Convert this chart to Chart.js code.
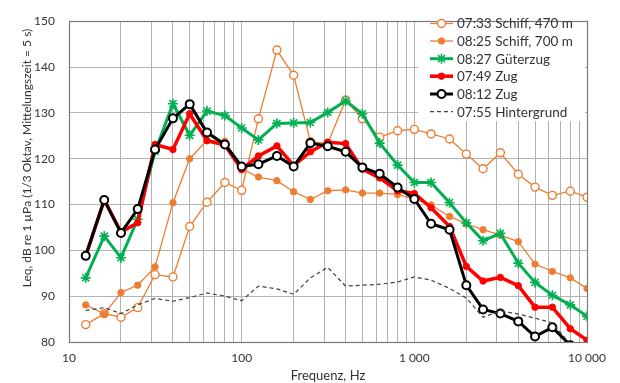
<!DOCTYPE html>
<html>
<head>
<meta charset="utf-8">
<script src="https://cdn.jsdelivr.net/npm/chart.js@4.4.1/dist/chart.umd.min.js"></script>
<style>
  html, body { margin: 0; padding: 0; background: #ffffff; }
  #wrap { width: 620px; height: 383px; }
</style>
</head>
<body>
<div id="wrap"><canvas id="c" width="620" height="383"></canvas></div>
<script>
// ---- data ----
const freqs = [12.5, 16, 20, 25, 31.5, 40, 50, 63, 80, 100, 125, 160, 200, 250, 315, 400, 500, 630, 800, 1000, 1250, 1600, 2000, 2500, 3150, 4000, 5000, 6300, 8000, 10000];

const schiff470 = [83.8, 86.2, 85.4, 87.5, 94.7, 94.2, 105.2, 110.5, 114.8, 113.1, 128.7, 143.7, 138.2, 123.7, 123.3, 132.8, 128.7, 124.7, 126.1, 126.4, 125.4, 124.3, 121.0, 117.8, 121.3, 116.6, 113.8, 112.0, 112.9, 111.6];
const schiff700 = [88.1, 86.1, 90.8, 92.4, 96.4, 110.4, 120.0, 124.0, 123.8, 117.8, 116.0, 115.2, 112.8, 111.1, 113.0, 113.2, 112.5, 112.5, 112.2, 111.1, 109.9, 107.4, 105.8, 104.5, 103.3, 101.9, 97.0, 95.4, 94.0, 91.7];
const gueterzug = [94.0, 103.1, 98.4, 106.8, 121.6, 132.0, 125.1, 130.4, 129.4, 126.7, 124.1, 127.7, 127.8, 127.9, 130.1, 132.6, 129.8, 123.4, 118.6, 114.8, 114.8, 110.4, 106.0, 102.1, 103.7, 97.2, 93.0, 90.2, 88.1, 85.6];
const zug0749 = [98.8, 111.0, 104.0, 106.0, 123.1, 122.0, 129.8, 123.9, 123.0, 117.6, 120.6, 122.8, 118.5, 121.5, 123.6, 123.3, 117.7, 115.8, 113.0, 112.4, 109.3, 105.2, 96.5, 93.3, 94.1, 92.3, 87.6, 87.6, 82.9, 80.4];
const zug0812 = [98.8, 111.0, 103.8, 109.0, 122.0, 128.8, 131.9, 125.7, 123.1, 118.3, 118.8, 120.6, 118.3, 123.4, 122.7, 121.5, 118.1, 116.7, 113.7, 111.2, 105.8, 104.5, 92.4, 87.1, 86.2, 84.5, 81.2, 83.2, 79.3, 76.5];
const hintergrund = [86.9, 87.5, 86.2, 88.1, 89.5, 88.9, 89.7, 90.7, 90.0, 89.0, 92.2, 91.6, 90.4, 94.0, 96.3, 92.2, 92.4, 92.6, 93.1, 94.2, 93.5, 91.7, 89.6, 85.4, 86.8, 86.1, 85.2, 84.2, 79.5, 77.5];

const seriesLabels = ['07:33 Schiff, 470 m', '08:25 Schiff, 700 m', '08:27 Güterzug', '07:49 Zug', '08:12 Zug', '07:55 Hintergrund'];

const gridFreqs = [10, 20, 30, 40, 50, 60, 70, 80, 90, 100, 200, 300, 400, 500, 600, 700, 800, 900, 1000, 2000, 3000, 4000, 5000, 6000, 7000, 8000, 9000, 10000];
const xTickLabels = { 10: '10', 100: '100', 1000: '1 000', 10000: '10 000' };
const yTickValues = [80, 90, 100, 110, 120, 130, 140, 150];

const xTitle = 'Frequenz, Hz';
const yTitle = 'Leq, dB re 1 µPa (1/3 Oktav, Mittelungszeit = 5 s)';

// ---- styling ----
const FONT = 'Lato, "Open Sans", sans-serif';
const TEXT = '#333333';
const GRID = '#b3b3b3';
const ORANGE = '#ED7D31';
const GREEN = '#00B050';
const RED = '#FF0000';
const BLACK = '#000000';
const DASH = '#404040';

function pts(arr) { return freqs.map((f, i) => ({ x: f, y: arr[i] })); }

const datasets = [
  { label: seriesLabels[0], data: pts(schiff470), borderColor: ORANGE, borderWidth: 1.3,
    pointStyle: 'circle', pointRadius: 4, pointBackgroundColor: '#ffffff', pointBorderColor: ORANGE, pointBorderWidth: 1.4, order: 5 },
  { label: seriesLabels[1], data: pts(schiff700), borderColor: ORANGE, borderWidth: 1.3,
    pointStyle: 'circle', pointRadius: 3.2, pointBackgroundColor: ORANGE, pointBorderColor: ORANGE, pointBorderWidth: 1, order: 4 },
  { label: seriesLabels[2], data: pts(gueterzug), borderColor: GREEN, borderWidth: 3,
    pointStyle: 'star', pointRadius: 5, pointBackgroundColor: GREEN, pointBorderColor: GREEN, pointBorderWidth: 1.6, order: 3 },
  { label: seriesLabels[3], data: pts(zug0749), borderColor: RED, borderWidth: 3.5,
    pointStyle: 'circle', pointRadius: 3.2, pointBackgroundColor: RED, pointBorderColor: RED, pointBorderWidth: 1, order: 2 },
  { label: seriesLabels[4], data: pts(zug0812), borderColor: BLACK, borderWidth: 3,
    pointStyle: 'circle', pointRadius: 4, pointBackgroundColor: '#ffffff', pointBorderColor: BLACK, pointBorderWidth: 2, order: 1 },
  { label: seriesLabels[5], data: pts(hintergrund), borderColor: DASH, borderWidth: 1.2, borderDash: [4, 3],
    pointRadius: 0, pointStyle: false, order: 0 }
];
datasets.forEach(d => { d.tension = 0; d.fill = false; d.clip = 0; d.pointHoverRadius = d.pointRadius; });

const LEGEND = { x0: 418, y0: 12, x1: 585, y1: 121, lineX0: 430, lineX1: 453, textX: 457, rowY: [23.5, 41, 58.7, 76.2, 94, 111.7] };

const decorPlugin = {
  id: 'decor',
  beforeDatasetsDraw(chart) {
    const ctx = chart.ctx;
    ctx.save();
    ctx.fillStyle = '#ffffff';
    ctx.fillRect(LEGEND.x0, LEGEND.y0, LEGEND.x1 - LEGEND.x0, LEGEND.y1 - LEGEND.y0);
    const a = chart.chartArea;
    ctx.strokeStyle = '#7a7a7a';
    ctx.lineWidth = 1.2;
    ctx.strokeRect(Math.round(a.left) + 0.5, Math.round(a.top) + 0.5, Math.round(a.right - a.left), Math.round(a.bottom - a.top));
    ctx.restore();
  },
  afterDatasetsDraw(chart) {
    const ctx = chart.ctx;
    ctx.save();
    chart.data.datasets.forEach((ds, i) => {
      const y = LEGEND.rowY[i];
      ctx.save();
      ctx.strokeStyle = ds.borderColor;
      ctx.lineWidth = ds.borderWidth;
      ctx.setLineDash(ds.borderDash || []);
      ctx.beginPath();
      ctx.moveTo(LEGEND.lineX0, y);
      ctx.lineTo(LEGEND.lineX1, y);
      ctx.stroke();
      ctx.setLineDash([]);
      if (ds.pointRadius > 0 && ds.pointStyle) {
        ctx.fillStyle = ds.pointBackgroundColor;
        ctx.strokeStyle = ds.pointBorderColor;
        ctx.lineWidth = ds.pointBorderWidth;
        Chart.helpers.drawPoint(ctx, { pointStyle: ds.pointStyle, rotation: 0, radius: ds.pointRadius, borderWidth: ds.pointBorderWidth },
          (LEGEND.lineX0 + LEGEND.lineX1) / 2, y);
      }
      ctx.restore();
      ctx.fillStyle = TEXT;
      ctx.font = '13.5px ' + FONT;
      ctx.textAlign = 'left';
      ctx.textBaseline = 'middle';
      ctx.fillText(ds.label, LEGEND.textX, y + 0.5);
    });
    ctx.fillStyle = TEXT;
    ctx.textAlign = 'center';
    ctx.textBaseline = 'middle';
    const a = chart.chartArea;
    ctx.font = '13px ' + FONT;
    ctx.fillText(xTitle, (a.left + a.right) / 2, 376);
    ctx.font = '12px ' + FONT;
    ctx.translate(27, 158);
    ctx.rotate(-Math.PI / 2);
    ctx.fillText(yTitle, 0, 0);
    ctx.restore();
  }
};

new Chart(document.getElementById('c'), {
  type: 'line',
  data: { datasets },
  options: {
    responsive: false,
    animation: false,
    devicePixelRatio: 1,
    events: [],
    layout: { padding: { left: 0, right: 33, top: 11, bottom: 0 } },
    plugins: { legend: { display: false }, tooltip: { enabled: false }, title: { display: false } },
    scales: {
      x: {
        type: 'logarithmic',
        min: 10, max: 10000,
        afterBuildTicks: s => { s.ticks = gridFreqs.map(v => ({ value: v })); },
        afterFit: s => { s.height = 41; },
        grid: { color: GRID, lineWidth: 1, drawTicks: false },
        border: { display: false },
        ticks: {
          autoSkip: false, maxRotation: 0, minRotation: 0, padding: 9,
          color: TEXT, font: { family: FONT, size: 12 },
          callback: v => xTickLabels[v] || ''
        }
      },
      y: {
        min: 80, max: 150,
        afterBuildTicks: s => { s.ticks = yTickValues.map(v => ({ value: v })); },
        afterFit: s => { s.width = 69; },
        grid: { color: GRID, lineWidth: 1, drawTicks: false },
        border: { display: false },
        ticks: { padding: 14, color: TEXT, font: { family: FONT, size: 12 } }
      }
    }
  },
  plugins: [decorPlugin]
});
</script>
</body>
</html>
